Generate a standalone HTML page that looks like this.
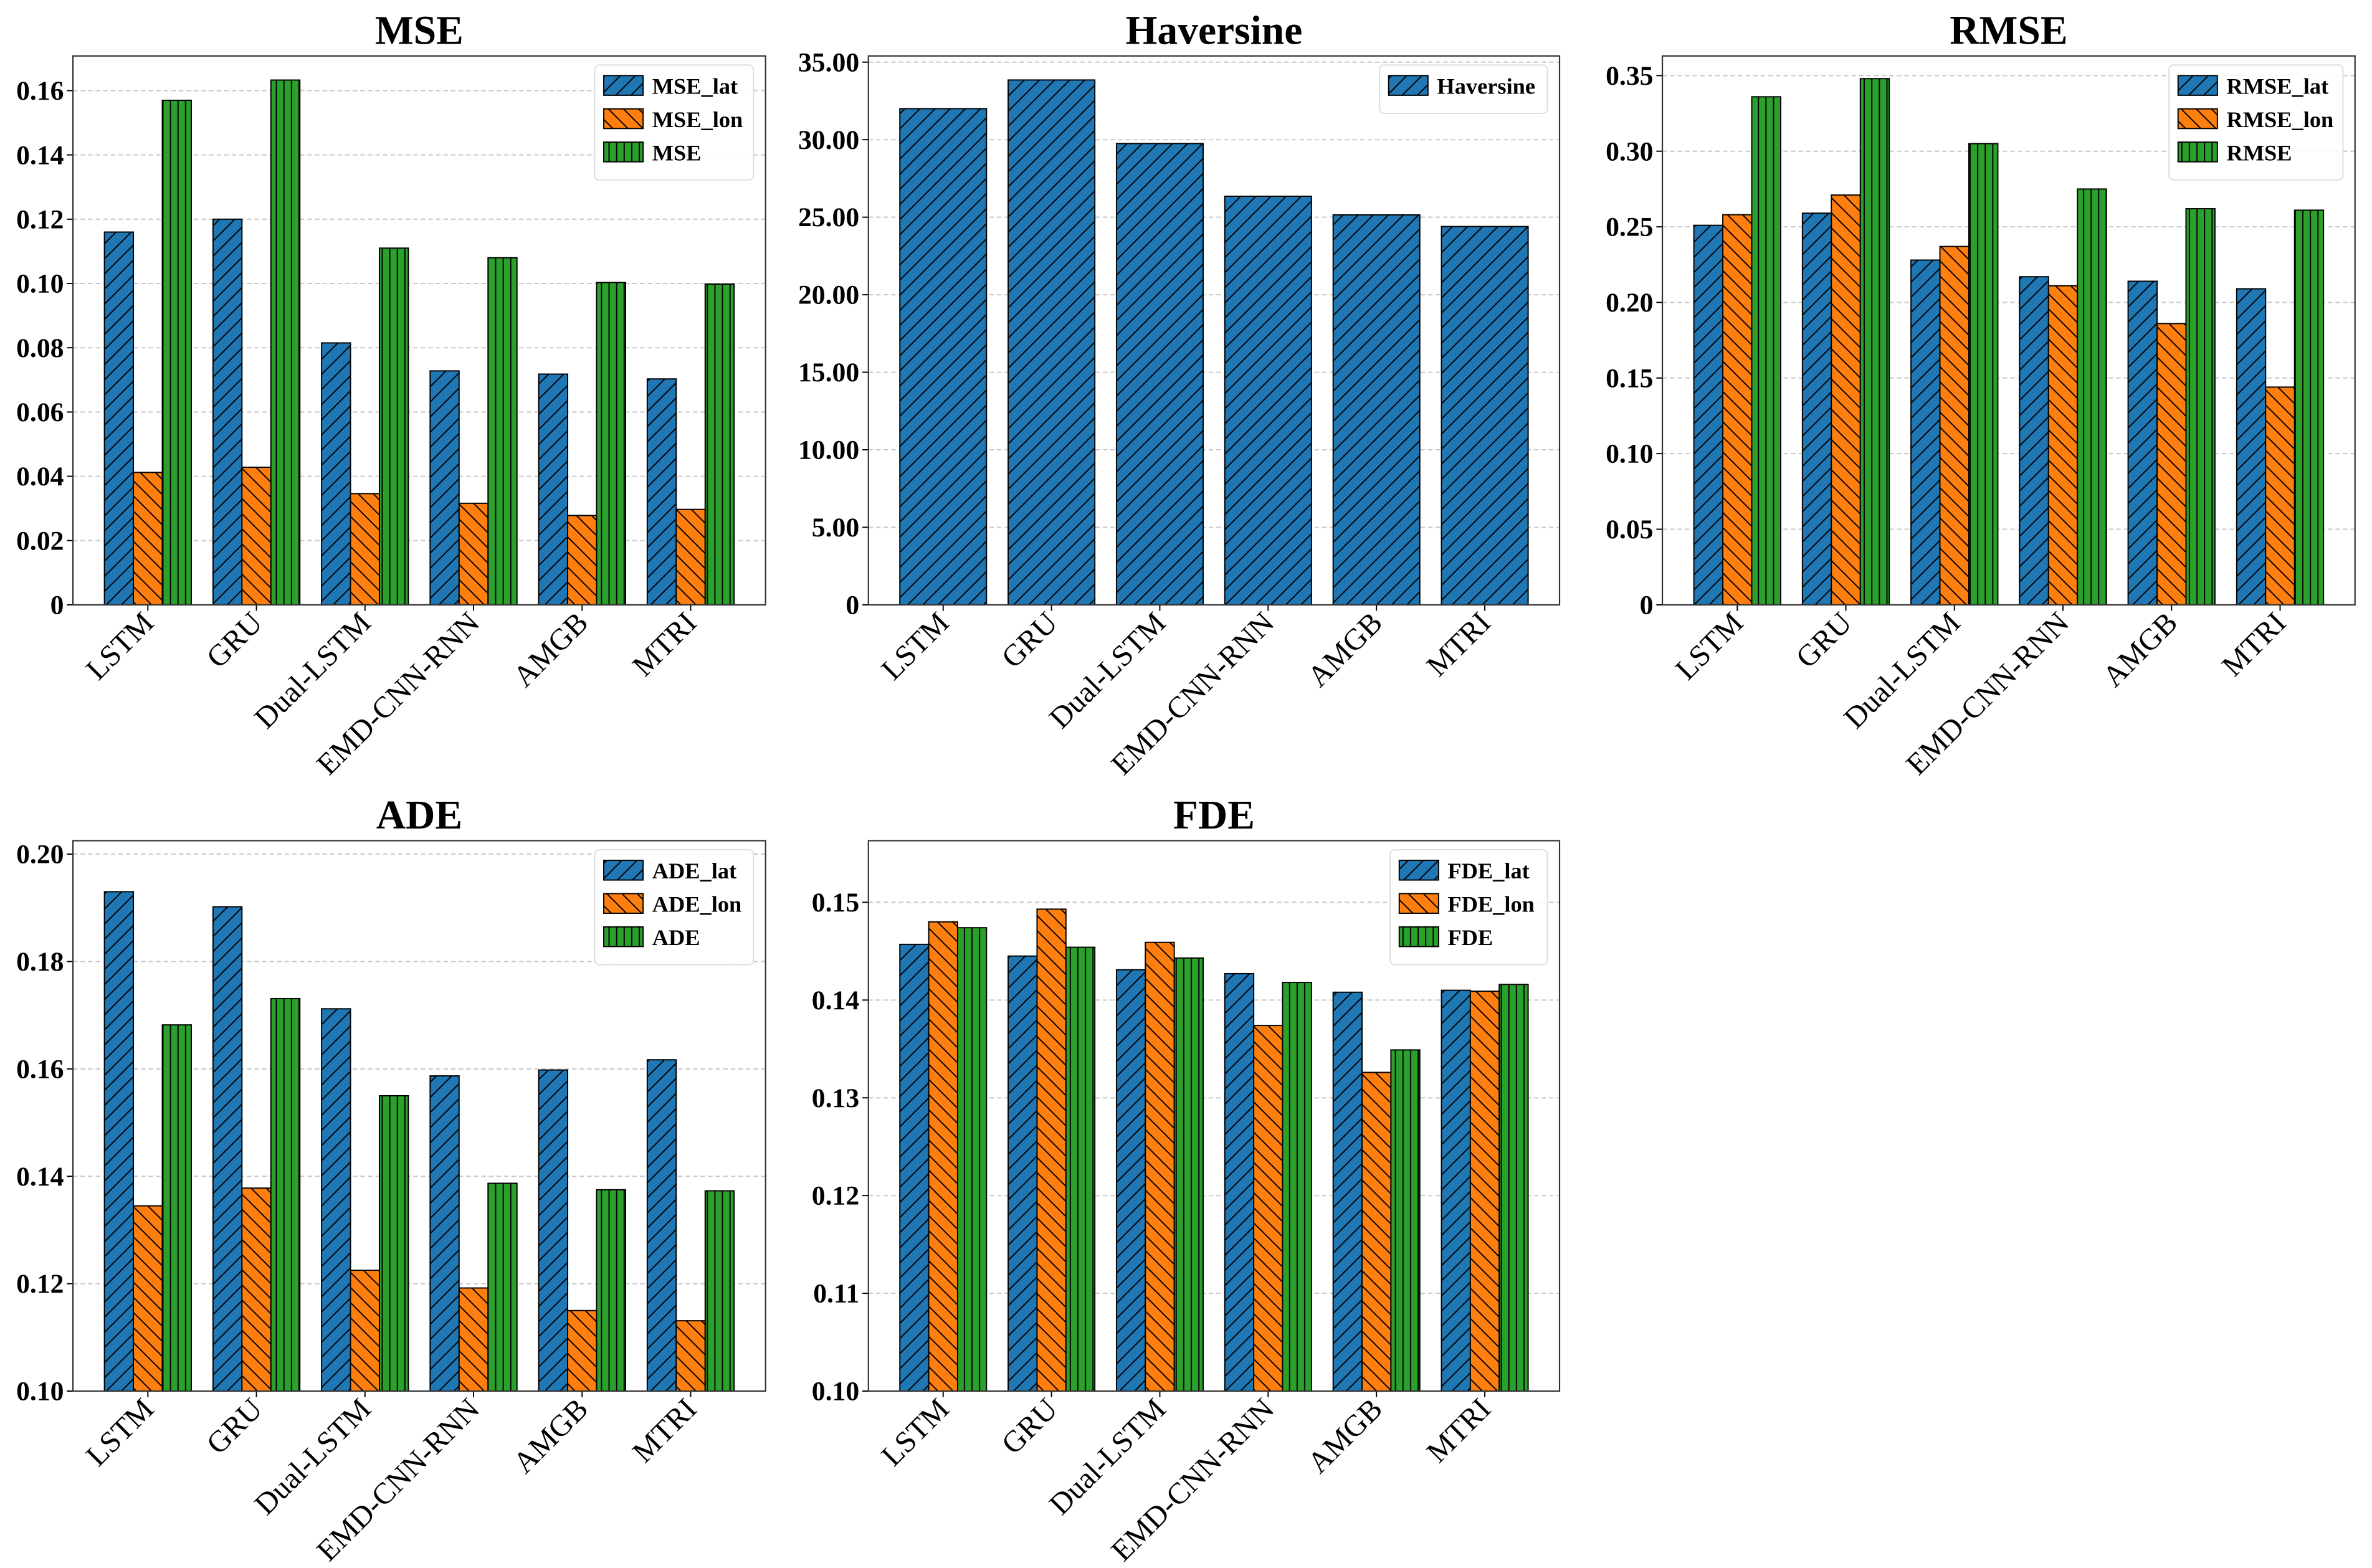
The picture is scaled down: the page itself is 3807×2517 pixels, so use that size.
<!DOCTYPE html>
<html><head><meta charset="utf-8">
<style>
html,body{margin:0;padding:0;background:#fff;}
svg{display:block;}
text{font-family:"Liberation Serif",serif;font-weight:bold;fill:#000;}
</style></head>
<body>
<svg id="chart" width="3807" height="2517" viewBox="0 0 1568 1037" xmlns="http://www.w3.org/2000/svg">
<defs>
<pattern id="hb" patternUnits="userSpaceOnUse" width="10" height="10"><rect width="10" height="10" fill="#1f77b4"/><path d="M-2,2 L2,-2 M0,10 L10,0 M8,12 L12,8" stroke="#000" stroke-width="0.8"/></pattern>
<pattern id="ho" patternUnits="userSpaceOnUse" width="10" height="10"><rect width="10" height="10" fill="#ff7f0e"/><path d="M-2,8 L2,12 M0,0 L10,10 M8,-2 L12,2" stroke="#000" stroke-width="0.8"/></pattern>
<pattern id="hg" patternUnits="userSpaceOnUse" width="5" height="8"><rect width="5" height="8" fill="#2ca02c"/><path d="M2.5,0 L2.5,8" stroke="#000" stroke-width="0.8"/></pattern>
</defs>
</svg>
<script>
const categories = ["LSTM","GRU","Dual-LSTM","EMD-CNN-RNN","AMGB","MTRI"];
const mseLat = [0.116,0.120,0.0815,0.0728,0.0718,0.0703];
const mseLon = [0.0412,0.0428,0.0346,0.0316,0.0278,0.0297];
const mseAll = [0.157,0.1633,0.111,0.108,0.1003,0.0998];
const mseTicks = [0,0.02,0.04,0.06,0.08,0.10,0.12,0.14,0.16];
const mseTickLabels = ["0","0.02","0.04","0.06","0.08","0.10","0.12","0.14","0.16"];
const havVals = [32.0,33.85,29.75,26.35,25.15,24.4];
const havTicks = [0,5,10,15,20,25,30,35];
const havTickLabels = ["0","5.00","10.00","15.00","20.00","25.00","30.00","35.00"];
const rmseLat = [0.251,0.259,0.228,0.217,0.214,0.209];
const rmseLon = [0.258,0.271,0.237,0.211,0.186,0.144];
const rmseAll = [0.336,0.348,0.305,0.275,0.262,0.261];
const rmseTicks = [0,0.05,0.10,0.15,0.20,0.25,0.30,0.35];
const rmseTickLabels = ["0","0.05","0.10","0.15","0.20","0.25","0.30","0.35"];
const adeLat = [0.193,0.1902,0.1712,0.1587,0.1598,0.1617];
const adeLon = [0.1345,0.1378,0.1225,0.1192,0.1150,0.1131];
const adeAll = [0.1682,0.1731,0.1550,0.1387,0.1375,0.1373];
const adeTicks = [0.10,0.12,0.14,0.16,0.18,0.20];
const adeTickLabels = ["0.10","0.12","0.14","0.16","0.18","0.20"];
const fdeLat = [0.1457,0.1445,0.1431,0.1427,0.1408,0.1410];
const fdeLon = [0.1480,0.1493,0.1459,0.1374,0.1326,0.1409];
const fdeAll = [0.1474,0.1454,0.1443,0.1418,0.1349,0.1416];
const fdeTicks = [0.10,0.11,0.12,0.13,0.14,0.15];
const fdeTickLabels = ["0.10","0.11","0.12","0.13","0.14","0.15"];

const NS="http://www.w3.org/2000/svg";
const svg=document.getElementById('chart');
function mk(tag,attrs,parent){const e=document.createElementNS(NS,tag);for(const k in attrs)e.setAttribute(k,attrs[k]);(parent||svg).appendChild(e);return e;}

function panel(cfg){
  const g=mk('g',{});
  
  
  const L=cfg.x0,R=cfg.x1,T=cfg.y0,B=cfg.y1;
  const xmin=-0.69,xmax=5.69;
  const sx=v=>L+(v-xmin)/(xmax-xmin)*(R-L);
  const sy=v=>B-(v-cfg.ymin)/(cfg.ymax-cfg.ymin)*(B-T);
  cfg.ticks.forEach((t,i)=>{
    const y=sy(t);
    if(i>0||cfg.ymin!==0){
      const gl=mk('line',{x1:L,x2:R,y1:y,y2:y,stroke:'#c8c8c8','stroke-width':0.8,'stroke-dasharray':'3,2'},g);
      
      
    }
    mk('line',{x1:L-4,x2:L,y1:y,y2:y,stroke:'#000','stroke-width':0.8},g);
    const tl=mk('text',{x:L-6,y:y+6,'text-anchor':'end','font-size':18},g);
    tl.textContent=cfg.tickLabels[i];
    
    
  });
  const n=cfg.series.length;
  const w=n===1?0.8:0.8/3;
  cfg.series.forEach((s,si)=>{
    s.values.forEach((v,ci)=>{
      const c=n===1?ci:ci+(si-1)*w;
      const xa=sx(c-w/2),xb=sx(c+w/2),ya=sy(v),yb=sy(cfg.ymin);
      const r=mk('rect',{x:xa,y:ya,width:xb-xa,height:yb-ya,fill:'url(#'+s.pat+')',stroke:'#000','stroke-width':0.8},g);
      
      
    });
  });
  categories.forEach((c,i)=>{
    const x=sx(i);
    mk('line',{x1:x,x2:x,y1:B,y2:B+4,stroke:'#000','stroke-width':0.8},g);
    const t=mk('text',{x:x+5,y:B+13,'text-anchor':'end','font-size':20,transform:'rotate(-45 '+(x+5)+' '+(B+13)+')'},g);
    t.style.fontWeight='normal';
    t.textContent=c;
    
    
  });
  const fr=mk('rect',{x:L,y:T,width:R-L,height:B-T,fill:'none',stroke:'#333','stroke-width':0.9},g);
  
  
  const ti=mk('text',{x:(L+R)/2,y:T-8,'text-anchor':'middle','font-size':27},g);
  ti.textContent=cfg.title;
  
  
  const lg=mk('g',{},g);
  
  
  const lw=cfg.legW,lx=R-8-lw,ly=T+6,lh=10+22*n;
  mk('rect',{x:lx,y:ly,width:lw,height:lh,rx:3,fill:'#fff','fill-opacity':0.85,stroke:'#ddd','stroke-width':0.8},lg);
  cfg.series.forEach((s,si)=>{
    const yy=ly+6+si*22;
    const p=mk('rect',{x:lx+6,y:yy+1,width:26,height:13,fill:'url(#'+s.pat+')',stroke:'#000','stroke-width':0.8},lg);
    
    
    const lt=mk('text',{x:lx+38,y:yy+13,'font-size':15},lg);
    lt.textContent=s.name;
    
    
  });
}

panel({key:'mse',title:'MSE',x0:48,x1:506,y0:37,y1:400,ymin:0,ymax:0.1708,ticks:mseTicks,tickLabels:mseTickLabels,legW:105,
  series:[{name:'MSE_lat',values:mseLat,pat:'hb'},{name:'MSE_lon',values:mseLon,pat:'ho'},{name:'MSE',values:mseAll,pat:'hg'}]});
panel({key:'haversine',title:'Haversine',x0:574,x1:1031,y0:37,y1:400,ymin:0,ymax:35.4,ticks:havTicks,tickLabels:havTickLabels,legW:111,
  series:[{name:'Haversine',values:havVals,pat:'hb'}]});
panel({key:'rmse',title:'RMSE',x0:1099,x1:1557,y0:37,y1:400,ymin:0,ymax:0.363,ticks:rmseTicks,tickLabels:rmseTickLabels,legW:115,
  series:[{name:'RMSE_lat',values:rmseLat,pat:'hb'},{name:'RMSE_lon',values:rmseLon,pat:'ho'},{name:'RMSE',values:rmseAll,pat:'hg'}]});
panel({key:'ade',title:'ADE',x0:48,x1:506,y0:556,y1:920,ymin:0.10,ymax:0.2025,ticks:adeTicks,tickLabels:adeTickLabels,legW:105,
  series:[{name:'ADE_lat',values:adeLat,pat:'hb'},{name:'ADE_lon',values:adeLon,pat:'ho'},{name:'ADE',values:adeAll,pat:'hg'}]});
panel({key:'fde',title:'FDE',x0:574,x1:1031,y0:556,y1:920,ymin:0.10,ymax:0.1563,ticks:fdeTicks,tickLabels:fdeTickLabels,legW:104,
  series:[{name:'FDE_lat',values:fdeLat,pat:'hb'},{name:'FDE_lon',values:fdeLon,pat:'ho'},{name:'FDE',values:fdeAll,pat:'hg'}]});
</script>
</body></html>
